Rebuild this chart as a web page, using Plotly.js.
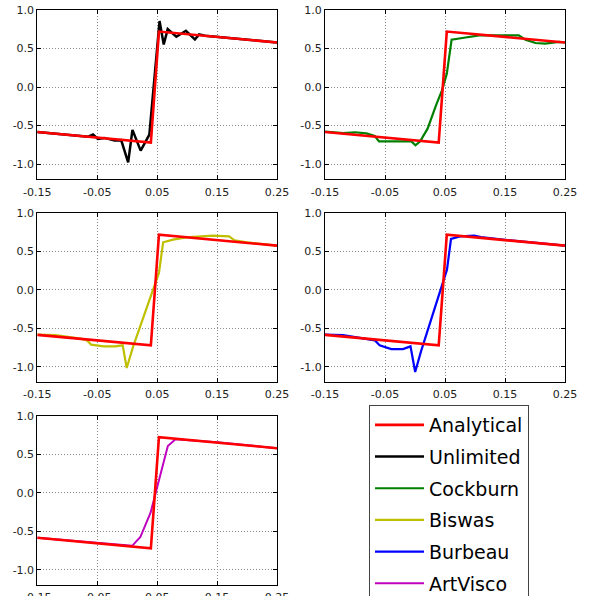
<!DOCTYPE html>
<html>
<head>
<meta charset="utf-8">
<script src="https://cdn.plot.ly/plotly-3.0.1.min.js"></script>
<style>html,body{margin:0;padding:0;background:#fff;overflow:hidden;}#chart{width:591px;height:612px;}</style>
</head>
<body>
<div id="chart"></div>
<script>
// ---- data ----
const xTickVals = [-0.15, -0.05, 0.05, 0.15, 0.25];
const xTickText = ['-0.15', '-0.05', '0.05', '0.15', '0.25'];
const yTickVals = [1.0, 0.5, 0.0, -0.5, -1.0];
const yTickText = ['1.0', '0.5', '0.0', '-0.5', '-1.0'];

const analyticalX = [-0.15, 0.0395, 0.053, 0.25];
const analyticalY = [-0.585, -0.722, 0.72, 0.578];

const unlimitedX = [-0.15, -0.1, -0.065, -0.057, -0.049, -0.038, -0.021, -0.01, 0.0016, 0.0088, 0.0225, 0.037, 0.054, 0.061, 0.0676, 0.082, 0.098, 0.113, 0.12, 0.13, 0.17, 0.25];
const unlimitedY = [-0.585, -0.62, -0.645, -0.617, -0.674, -0.661, -0.696, -0.69, -0.978, -0.557, -0.826, -0.617, 0.857, 0.552, 0.752, 0.652, 0.730, 0.617, 0.683, 0.667, 0.64, 0.578];

const cockburnX = [-0.15, -0.12, -0.1, -0.081, -0.067, -0.06, -0.006, 0.0008, 0.0086, 0.021, 0.035, 0.045, 0.053, 0.061, 0.079, 0.107, 0.173, 0.184, 0.201, 0.217, 0.24, 0.25];
const cockburnY = [-0.58, -0.6, -0.588, -0.603, -0.636, -0.706, -0.706, -0.758, -0.706, -0.541, -0.238, -0.043, 0.173, 0.615, 0.636, 0.671, 0.671, 0.615, 0.571, 0.563, 0.585, 0.578];

const biswasX = [-0.15, -0.12, -0.078, -0.067, -0.06, -0.0395, -0.02, -0.0075, -0.0008, 0.010, 0.053, 0.06, 0.0765, 0.0986, 0.143, 0.17, 0.179, 0.2, 0.25];
const biswasY = [-0.583, -0.59, -0.635, -0.657, -0.713, -0.735, -0.735, -0.722, -1.017, -0.735, 0.222, 0.622, 0.657, 0.687, 0.709, 0.70, 0.648, 0.62, 0.578];

const burbeauX = [-0.15, -0.12, -0.067, -0.059, -0.0395, -0.02, -0.0075, 0.0003, 0.010, 0.0533, 0.06, 0.0765, 0.0986, 0.11, 0.15, 0.25];
const burbeauY = [-0.583, -0.59, -0.657, -0.722, -0.77, -0.77, -0.735, -1.07, -0.80, 0.265, 0.665, 0.70, 0.709, 0.69, 0.655, 0.578];

const artviscoX = [-0.15, -0.05, 0.0083, 0.022, 0.039, 0.0678, 0.0806, 0.15, 0.25];
const artviscoY = [-0.585, -0.656, -0.69, -0.576, -0.26, 0.606, 0.693, 0.655, 0.578];

// ---- chart ----
// The figure is taller than the 596px window; its bottom edge is cut off as in the reference.
const W = 591, H = 612;
const numerics = [
  {name: 'Unlimited', x: unlimitedX, y: unlimitedY, color: '#000000', width: 2.5},
  {name: 'Cockburn', x: cockburnX, y: cockburnY, color: '#008000', width: 2.2},
  {name: 'Biswas', x: biswasX, y: biswasY, color: '#bfbf00', width: 2.2},
  {name: 'Burbeau', x: burbeauX, y: burbeauY, color: '#0000ff', width: 2.2},
  {name: 'ArtVisco', x: artviscoX, y: artviscoY, color: '#bf00bf', width: 2.0}
];

const traces = [];
numerics.forEach((s, i) => {
  const ax = i === 0 ? '' : String(i + 1);
  traces.push({
    type: 'scatter', mode: 'lines', x: s.x, y: s.y, name: s.name,
    xaxis: 'x' + ax, yaxis: 'y' + ax,
    line: {color: s.color, width: s.width},
    legendgroup: s.name, legendrank: i + 2, showlegend: true
  });
  traces.push({
    type: 'scatter', mode: 'lines', x: analyticalX, y: analyticalY, name: 'Analytical',
    xaxis: 'x' + ax, yaxis: 'y' + ax,
    line: {color: '#ff0000', width: 2.6},
    legendgroup: 'Analytical', legendrank: 1, showlegend: i === 0
  });
});

// panel boxes in pixels: [left, right, top, bottom]
const boxes = [
  [37.3, 277, 10, 179.4],
  [325, 565, 10, 179.4],
  [37.3, 277, 213.3, 382],
  [325, 565, 213.3, 382],
  [37.3, 277, 415.7, 585.1]
];

const tickFont = {family: 'DejaVu Sans', size: 11, color: '#222'};
const layout = {
  width: W, height: H,
  margin: {l: 0, r: 0, t: 0, b: 0, autoexpand: false},
  paper_bgcolor: '#ffffff', plot_bgcolor: '#ffffff',
  showlegend: true,
  legend: {
    x: 369 / W, y: 1 - 405 / H, xanchor: 'left', yanchor: 'top',
    bgcolor: '#ffffff', bordercolor: '#444', borderwidth: 1,
    font: {family: 'DejaVu Sans', size: 19, color: '#000'},
    traceorder: 'grouped', tracegroupgap: 4, itemwidth: 49
  }
};
boxes.forEach((b, i) => {
  const ax = i === 0 ? '' : String(i + 1);
  layout['xaxis' + ax] = {
    domain: [b[0] / W, b[1] / W], range: [-0.15, 0.25],
    anchor: 'y' + ax, tickvals: xTickVals, ticktext: xTickText,
    showline: true, linecolor: '#000', linewidth: 1, mirror: 'ticks',
    ticks: 'inside', ticklen: 4, tickcolor: '#000', ticklabelstandoff: 2,
    showgrid: true, gridcolor: '#8a8a8a', griddash: '1px,2px', gridwidth: 1,
    zeroline: false, tickfont: tickFont, fixedrange: true
  };
  layout['yaxis' + ax] = {
    domain: [1 - b[3] / H, 1 - b[2] / H], range: [-1.2, 1.0],
    anchor: 'x' + ax, tickvals: yTickVals, ticktext: yTickText,
    showline: true, linecolor: '#000', linewidth: 1, mirror: 'ticks',
    ticks: 'inside', ticklen: 4, tickcolor: '#000',
    showgrid: true, gridcolor: '#8a8a8a', griddash: '1px,2px', gridwidth: 1,
    zeroline: false, tickfont: tickFont, fixedrange: true
  };
});

Plotly.newPlot('chart', traces, layout, {displayModeBar: false, staticPlot: true});
</script>
</body>
</html>
